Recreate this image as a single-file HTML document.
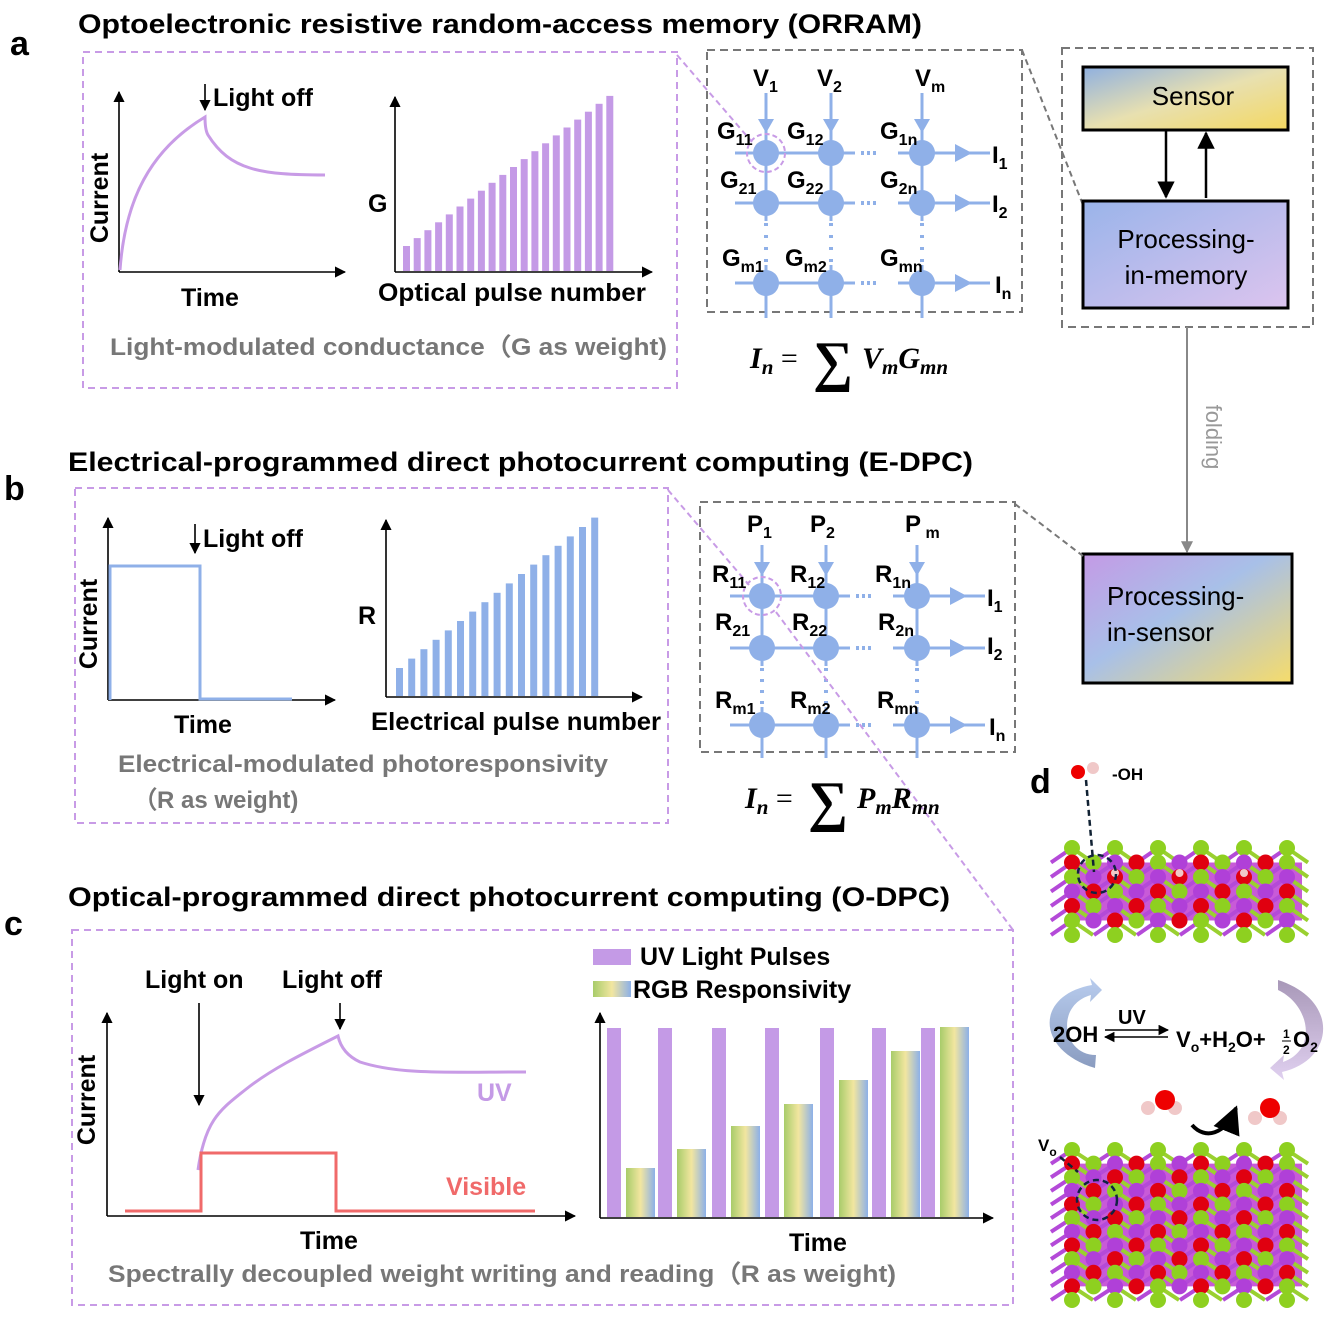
<!DOCTYPE html>
<html><head><meta charset="utf-8"><style>
html,body{margin:0;padding:0;background:#fff}
svg{display:block}
text{font-family:"Liberation Sans",Arial,sans-serif;font-weight:bold}
</style></head><body>
<svg id="s" width="1337" height="1318" viewBox="0 0 1337 1318" xmlns="http://www.w3.org/2000/svg">
<defs>
<marker id="ah" viewBox="0 0 10 10" refX="9" refY="5" markerWidth="7" markerHeight="7" orient="auto"><path d="M0,0L10,5L0,10z" fill="#000"/></marker>
<marker id="ahg" viewBox="0 0 10 10" refX="9" refY="5" markerWidth="6" markerHeight="6" orient="auto"><path d="M0,0L10,5L0,10z" fill="#888"/></marker>
<linearGradient id="gSensor" x1="0" y1="0" x2="1" y2="1"><stop offset="0" stop-color="#8fb0e0"/><stop offset="0.5" stop-color="#e8e0b0"/><stop offset="1" stop-color="#f4d860"/></linearGradient>
<linearGradient id="gPim" x1="0" y1="0" x2="1" y2="1"><stop offset="0" stop-color="#9ab4ea"/><stop offset="1" stop-color="#dcc4ee"/></linearGradient>
<linearGradient id="gPis" x1="0" y1="0" x2="1" y2="1"><stop offset="0" stop-color="#c49ae6"/><stop offset="0.45" stop-color="#a8c0e8"/><stop offset="1" stop-color="#f6dc6a"/></linearGradient>
<linearGradient id="gRgb" x1="0" y1="0" x2="1" y2="0"><stop offset="0" stop-color="#a8cc6a"/><stop offset="0.5" stop-color="#f2e6a0"/><stop offset="1" stop-color="#8cb0e8"/></linearGradient>
<linearGradient id="gArL" x1="0" y1="0" x2="0" y2="1"><stop offset="0" stop-color="#b8ccee"/><stop offset="1" stop-color="#8a9cc0"/></linearGradient>
<linearGradient id="gArR" x1="0" y1="0" x2="0" y2="1"><stop offset="0" stop-color="#a898b8"/><stop offset="1" stop-color="#e0d0f0"/></linearGradient>
</defs>

<!-- Panel a -->
<text x="10" y="55" font-size="34">a</text>
<text x="78" y="33" font-size="27" textLength="844" lengthAdjust="spacingAndGlyphs">Optoelectronic resistive random-access memory (ORRAM)</text>
<rect x="83" y="52" width="594" height="336" fill="none" stroke="#c89be6" stroke-width="2" stroke-dasharray="7,5"/>
<g stroke="#000" stroke-width="1.6" fill="none">
<line x1="119" y1="272" x2="119" y2="92" marker-end="url(#ah)"/>
<line x1="119" y1="272" x2="345" y2="272" marker-end="url(#ah)"/>
<line x1="395" y1="272" x2="395" y2="97" marker-end="url(#ah)"/>
<line x1="395" y1="272" x2="652" y2="272" marker-end="url(#ah)"/>
<line x1="205" y1="84" x2="205" y2="110" marker-end="url(#ah)"/>
</g>
<path d="M120,270 C125,200 150,150 205,117 C205,122 205,130 208,135 C230,170 260,175 325,175" fill="none" stroke="#c89be6" stroke-width="3"/>
<text x="213" y="106" font-size="25">Light off</text>
<text transform="translate(108,198) rotate(-90)" font-size="25" text-anchor="middle">Current</text>
<text x="210" y="306" font-size="25" text-anchor="middle">Time</text>
<text x="368" y="212" font-size="25">G</text>
<g id="barsA" fill="#c49ae6"></g>
<text x="378" y="301" font-size="25" textLength="268" lengthAdjust="spacingAndGlyphs">Optical pulse number</text>
<text x="110" y="355" font-size="24" fill="#777" textLength="557" lengthAdjust="spacingAndGlyphs">Light-modulated conductance（G as weight)</text>

<!-- crossbar a -->
<rect x="707" y="50" width="315" height="262" fill="none" stroke="#777" stroke-width="2" stroke-dasharray="8,5"/>
<g id="xa"></g>
<circle cx="766" cy="153" r="19" fill="none" stroke="#c89be6" stroke-width="2" stroke-dasharray="5,3"/>
<line x1="677" y1="55" x2="752" y2="142" stroke="#c89be6" stroke-width="2" stroke-dasharray="6,4"/>
<line x1="1022" y1="50" x2="1083" y2="205" stroke="#777" stroke-width="2" stroke-dasharray="6,4"/>
<g font-size="24">
<text x="753" y="86">V<tspan font-size="16" dy="6">1</tspan></text>
<text x="817" y="86">V<tspan font-size="16" dy="6">2</tspan></text>
<text x="915" y="86">V<tspan font-size="16" dy="6">m</tspan></text>
<text x="717" y="139">G<tspan font-size="16" dy="6">11</tspan></text>
<text x="787" y="139">G<tspan font-size="16" dy="6">12</tspan></text>
<text x="880" y="139">G<tspan font-size="16" dy="6">1n</tspan></text>
<text x="720" y="188">G<tspan font-size="16" dy="6">21</tspan></text>
<text x="787" y="188">G<tspan font-size="16" dy="6">22</tspan></text>
<text x="880" y="188">G<tspan font-size="16" dy="6">2n</tspan></text>
<text x="722" y="266">G<tspan font-size="16" dy="6">m1</tspan></text>
<text x="785" y="266">G<tspan font-size="16" dy="6">m2</tspan></text>
<text x="880" y="266">G<tspan font-size="16" dy="6">mn</tspan></text>
<text x="992" y="163">I<tspan font-size="16" dy="6">1</tspan></text>
<text x="992" y="212">I<tspan font-size="16" dy="6">2</tspan></text>
<text x="995" y="293">I<tspan font-size="16" dy="6">n</tspan></text>
</g>
<g font-style="italic">
<text x="750" y="368" font-size="30" style="font-family:'Liberation Serif',serif">I<tspan font-size="21" dy="6">n</tspan><tspan dy="-6" font-style="normal" font-weight="normal"> = </tspan></text>
<text x="813" y="380" font-size="56" font-style="normal" font-weight="normal" style="font-family:'Liberation Serif',serif">∑</text>
<text x="862" y="368" font-size="30" style="font-family:'Liberation Serif',serif">V<tspan font-size="21" dy="6">m</tspan><tspan dy="-6">G</tspan><tspan font-size="21" dy="6">mn</tspan></text>
</g>

<!-- right boxes -->
<rect x="1062" y="48" width="251" height="279" fill="none" stroke="#777" stroke-width="2" stroke-dasharray="8,5"/>
<rect x="1083" y="67" width="205" height="63" fill="url(#gSensor)" stroke="#000" stroke-width="3"/>
<text x="1193" y="105" font-size="26" text-anchor="middle" style="font-weight:normal">Sensor</text>
<rect x="1083" y="201" width="205" height="107" fill="url(#gPim)" stroke="#000" stroke-width="3"/>
<text x="1186" y="248" font-size="26" text-anchor="middle" style="font-weight:normal">Processing-</text>
<text x="1186" y="284" font-size="26" text-anchor="middle" style="font-weight:normal">in-memory</text>
<line x1="1166" y1="130" x2="1166" y2="197" stroke="#000" stroke-width="2.5" marker-end="url(#ah)"/>
<line x1="1206" y1="198" x2="1206" y2="133" stroke="#000" stroke-width="2.5" marker-end="url(#ah)"/>
<line x1="1187" y1="327" x2="1187" y2="552" stroke="#888" stroke-width="2" marker-end="url(#ahg)"/>
<text transform="translate(1206,437) rotate(90)" font-size="22" fill="#999" text-anchor="middle" style="font-weight:normal">folding</text>
<rect x="1083" y="554" width="209" height="129" fill="url(#gPis)" stroke="#000" stroke-width="3"/>
<text x="1107" y="605" font-size="26" style="font-weight:normal">Processing-</text>
<text x="1107" y="641" font-size="26" style="font-weight:normal">in-sensor</text>

<!-- Panel b -->
<text x="4" y="500" font-size="34">b</text>
<text x="68" y="471" font-size="27" textLength="905" lengthAdjust="spacingAndGlyphs">Electrical-programmed direct photocurrent computing (E-DPC)</text>
<rect x="75" y="488" width="593" height="335" fill="none" stroke="#c89be6" stroke-width="2" stroke-dasharray="7,5"/>
<g stroke="#000" stroke-width="1.6" fill="none">
<line x1="108" y1="700" x2="108" y2="518" marker-end="url(#ah)"/>
<line x1="108" y1="700" x2="335" y2="700" marker-end="url(#ah)"/>
<line x1="386" y1="697" x2="386" y2="520" marker-end="url(#ah)"/>
<line x1="386" y1="697" x2="642" y2="697" marker-end="url(#ah)"/>
<line x1="195" y1="524" x2="195" y2="553" marker-end="url(#ah)"/>
</g>
<path d="M110,700 L110,566 L200,566 L200,699 L292,699" fill="none" stroke="#8fb0e8" stroke-width="3"/>
<text x="203" y="547" font-size="25">Light off</text>
<text transform="translate(97,624) rotate(-90)" font-size="25" text-anchor="middle">Current</text>
<text x="203" y="733" font-size="25" text-anchor="middle">Time</text>
<text x="358" y="624" font-size="25">R</text>
<g id="barsB" fill="#8fb0e8"></g>
<text x="371" y="730" font-size="25" textLength="290" lengthAdjust="spacingAndGlyphs">Electrical pulse number</text>
<text x="118" y="772" font-size="24" fill="#777" textLength="490" lengthAdjust="spacingAndGlyphs">Electrical-modulated photoresponsivity</text>
<text x="133" y="808" font-size="24" fill="#777">（R as weight)</text>

<rect x="700" y="502" width="315" height="250" fill="none" stroke="#777" stroke-width="2" stroke-dasharray="8,5"/>
<g id="xb"></g>
<circle cx="762" cy="596" r="19" fill="none" stroke="#c89be6" stroke-width="2" stroke-dasharray="5,3"/>
<line x1="668" y1="490" x2="749" y2="585" stroke="#c89be6" stroke-width="2" stroke-dasharray="6,4"/>
<line x1="776" y1="612" x2="1013" y2="930" stroke="#c89be6" stroke-width="2" stroke-dasharray="6,4"/>
<line x1="1015" y1="504" x2="1083" y2="556" stroke="#777" stroke-width="2" stroke-dasharray="6,4"/>
<g font-size="24">
<text x="747" y="532">P<tspan font-size="16" dy="6">1</tspan></text>
<text x="810" y="532">P<tspan font-size="16" dy="6">2</tspan></text>
<text x="905" y="532">P<tspan font-size="16" dy="6"> m</tspan></text>
<text x="712" y="582">R<tspan font-size="16" dy="6">11</tspan></text>
<text x="790" y="582">R<tspan font-size="16" dy="6">12</tspan></text>
<text x="875" y="582">R<tspan font-size="16" dy="6">1n</tspan></text>
<text x="715" y="630">R<tspan font-size="16" dy="6">21</tspan></text>
<text x="792" y="630">R<tspan font-size="16" dy="6">22</tspan></text>
<text x="878" y="630">R<tspan font-size="16" dy="6">2n</tspan></text>
<text x="715" y="708">R<tspan font-size="16" dy="6">m1</tspan></text>
<text x="790" y="708">R<tspan font-size="16" dy="6">m2</tspan></text>
<text x="877" y="708">R<tspan font-size="16" dy="6">mn</tspan></text>
<text x="987" y="606">I<tspan font-size="16" dy="6">1</tspan></text>
<text x="987" y="654">I<tspan font-size="16" dy="6">2</tspan></text>
<text x="989" y="735">I<tspan font-size="16" dy="6">n</tspan></text>
</g>
<g font-style="italic">
<text x="745" y="808" font-size="30" style="font-family:'Liberation Serif',serif">I<tspan font-size="21" dy="6">n</tspan><tspan dy="-6" font-style="normal" font-weight="normal"> = </tspan></text>
<text x="808" y="820" font-size="56" font-style="normal" font-weight="normal" style="font-family:'Liberation Serif',serif">∑</text>
<text x="857" y="808" font-size="30" style="font-family:'Liberation Serif',serif">P<tspan font-size="21" dy="6">m</tspan><tspan dy="-6">R</tspan><tspan font-size="21" dy="6">mn</tspan></text>
</g>

<!-- Panel c -->
<text x="4" y="935" font-size="34">c</text>
<text x="68" y="906" font-size="27" textLength="882" lengthAdjust="spacingAndGlyphs">Optical-programmed direct photocurrent computing (O-DPC)</text>
<rect x="72" y="930" width="941" height="375" fill="none" stroke="#c89be6" stroke-width="2" stroke-dasharray="7,5"/>
<g stroke="#000" stroke-width="1.6" fill="none">
<line x1="107" y1="1216" x2="107" y2="1013" marker-end="url(#ah)"/>
<line x1="107" y1="1216" x2="575" y2="1216" marker-end="url(#ah)"/>
<line x1="600" y1="1218" x2="600" y2="1013" marker-end="url(#ah)"/>
<line x1="600" y1="1218" x2="993" y2="1218" marker-end="url(#ah)"/>
<line x1="199" y1="1003" x2="199" y2="1105" marker-end="url(#ah)"/>
<line x1="340" y1="1003" x2="340" y2="1029" marker-end="url(#ah)"/>
</g>
<path d="M198,1170 C205,1120 220,1110 245,1090 C270,1070 300,1055 338,1036 C340,1045 345,1055 360,1062 C400,1075 450,1072 526,1072" fill="none" stroke="#c89be6" stroke-width="3"/>
<path d="M125,1211 L201,1211 L201,1153 L336,1153 L336,1211 L535,1211" fill="none" stroke="#f06a6a" stroke-width="3"/>
<text x="145" y="988" font-size="25">Light on</text>
<text x="282" y="988" font-size="25">Light off</text>
<text x="477" y="1101" font-size="25" fill="#c49ae6">UV</text>
<text x="446" y="1195" font-size="25" fill="#f06a6a">Visible</text>
<text x="329" y="1249" font-size="25" text-anchor="middle">Time</text>
<text transform="translate(95,1100) rotate(-90)" font-size="25" text-anchor="middle">Current</text>
<g id="barsC"></g>
<rect x="593" y="949" width="38" height="16" fill="#c49ae6"/>
<text x="640" y="965" font-size="25">UV Light Pulses</text>
<rect x="593" y="981" width="38" height="16" fill="url(#gRgb)"/>
<text x="633" y="998" font-size="25">RGB Responsivity</text>
<text x="818" y="1251" font-size="25" text-anchor="middle">Time</text>
<text x="108" y="1282" font-size="24" fill="#777" textLength="788" lengthAdjust="spacingAndGlyphs">Spectrally decoupled weight writing and reading（R as weight)</text>

<!-- Panel d -->
<text x="1030" y="793" font-size="34">d</text>
<g id="cr1"></g>
<g id="cr2"></g>
<circle cx="1078" cy="772" r="7" fill="#e00"/><circle cx="1093" cy="768" r="6" fill="#f0c8c8"/>
<text x="1112" y="780" font-size="17">-OH</text>
<line x1="1086" y1="780" x2="1094" y2="872" stroke="#123" stroke-width="2.5" stroke-dasharray="6,4"/>
<circle cx="1097" cy="874" r="19" fill="none" stroke="#124" stroke-width="2.5" stroke-dasharray="6,4"/>
<circle cx="1097" cy="1200" r="20" fill="none" stroke="#124" stroke-width="2.5" stroke-dasharray="6,4"/>
<text x="1038" y="1151" font-size="17">V<tspan font-size="12" dy="5">o</tspan></text>
<line x1="1060" y1="1157" x2="1078" y2="1172" stroke="#123" stroke-width="2.5" stroke-dasharray="6,4"/>
<path d="M1095,1068 C1035,1050 1035,995 1092,985 L1090,978 L1102,990 L1090,1002 L1091,995 C1055,1005 1062,1055 1096,1055 Z" fill="url(#gArL)"/>
<path d="M1278,980 C1340,1000 1335,1060 1282,1072 L1284,1080 L1270,1068 L1284,1055 L1283,1062 C1318,1050 1310,1005 1278,990 Z" fill="url(#gArR)"/>
<text x="1053" y="1042" font-size="22">2OH</text>
<text x="1118" y="1024" font-size="20">UV</text>
<line x1="1105" y1="1030" x2="1168" y2="1030" stroke="#000" stroke-width="1.5" marker-end="url(#ah)"/>
<line x1="1168" y1="1037" x2="1105" y2="1037" stroke="#000" stroke-width="1.5" marker-end="url(#ah)"/>
<text x="1176" y="1047" font-size="22">V<tspan font-size="14" dy="5">o</tspan><tspan dy="-5">+H</tspan><tspan font-size="14" dy="5">2</tspan><tspan dy="-5">O+</tspan></text>
<text x="1283" y="1038" font-size="12">1</text><line x1="1282" y1="1041" x2="1291" y2="1041" stroke="#000"/><text x="1283" y="1054" font-size="12">2</text>
<text x="1293" y="1047" font-size="22">O<tspan font-size="14" dy="5">2</tspan></text>
<g><circle cx="1148" cy="1108" r="7" fill="#f0c8c8"/><circle cx="1175" cy="1108" r="7" fill="#f0c8c8"/><circle cx="1165" cy="1100" r="10" fill="#e00"/></g>
<g><circle cx="1255" cy="1118" r="7" fill="#f0c8c8"/><circle cx="1280" cy="1118" r="7" fill="#f0c8c8"/><circle cx="1270" cy="1108" r="10" fill="#e00"/></g>
<path d="M1192,1125 C1205,1140 1225,1135 1236,1108" fill="none" stroke="#000" stroke-width="4" marker-end="url(#ah)"/>
</svg>
<script>
var NS="http://www.w3.org/2000/svg";
function el(p,t,a){var e=document.createElementNS(NS,t);for(var k in a)e.setAttribute(k,a[k]);p.appendChild(e);return e;}
(function(){
var g=document.getElementById("barsA");
for(var i=0;i<20;i++){var x=403+i*10.7,tp=246-i*7.9;el(g,"rect",{x:x,y:tp,width:7,height:271-tp});}
g=document.getElementById("barsB");
for(var i=0;i<17;i++){var x=396+i*12.2,tp=668-i*9.4;el(g,"rect",{x:x,y:tp,width:7,height:696-tp});}
g=document.getElementById("barsC");
var px=[607,658,712,765,820,872,921],gt=[1168,1149,1126,1104,1080,1051,1027];
for(var i=0;i<7;i++){el(g,"rect",{x:px[i],y:1028,width:14,height:189,fill:"#c49ae6"});el(g,"rect",{x:px[i]+19,y:gt[i],width:29,height:1217-gt[i],fill:"url(#gRgb)"});}
function xbar(id,cx,ry,tp,bot,l,r){var G=document.getElementById(id),c="#8fb0e8";
cx.forEach(function(x){el(G,"line",{x1:x,y1:tp,x2:x,y2:bot,stroke:c,"stroke-width":3});el(G,"path",{d:"M"+(x-8)+","+(ry[0]-34)+"L"+(x+8)+","+(ry[0]-34)+"L"+x+","+(ry[0]-20)+"z",fill:c});});
ry.forEach(function(y){el(G,"line",{x1:l,y1:y,x2:cx[1]+24,y2:y,stroke:c,"stroke-width":3});el(G,"line",{x1:cx[2]-24,y1:y,x2:r,y2:y,stroke:c,"stroke-width":3});
for(var k=0;k<3;k++)el(G,"rect",{x:cx[1]+30+k*6,y:y-2,width:3,height:4,fill:c});
el(G,"path",{d:"M"+(cx[2]+33)+","+(y-9)+"L"+(cx[2]+50)+","+y+"L"+(cx[2]+33)+","+(y+9)+"z",fill:c});
cx.forEach(function(x){el(G,"circle",{cx:x,cy:y,r:13,fill:c});});});
cx.forEach(function(x){el(G,"rect",{x:x-4,y:ry[1]+18,width:8,height:ry[2]-ry[1]-36,fill:"#fff"});for(var k=0;k<4;k++)el(G,"rect",{x:x-2,y:ry[1]+20+k*((ry[2]-ry[1]-44)/3),width:4,height:3,fill:c});});}
xbar("xa",[766,831,922],[153,203,283],93,318,735,990);
xbar("xb",[762,826,917],[596,648,725],545,758,730,985);
function crystal(id,y0,y1,oh){var G=document.getElementById(id);
var n=Math.round((y1-y0)/14)+1;var dy=(y1-y0)/(n-1);
var cols=[];for(var x=1072;x<=1300;x+=21.5)cols.push(x);
el(G,"rect",{x:1068,y:y0+dy,width:234,height:y1-y0-2*dy,fill:"#c85ad8"});
for(var i=0;i<cols.length;i++)for(var j=0;j<n;j++){var x=cols[i],y=y0+j*dy;
if(j<n-1&&i%2==0){el(G,"line",{x1:x,y1:y,x2:x+21,y2:y+dy,stroke:"#9ad030","stroke-width":4});el(G,"line",{x1:x,y1:y,x2:x-21,y2:y+dy,stroke:"#b44ad8","stroke-width":4});}}
for(var j=0;j<n;j++)for(var i=0;i<cols.length;i++){var x=cols[i],y=y0+j*dy;var col,r=8;
if(j==0||j==n-1){if(i%2==0)col="#8ed020";else continue;}
else{var t=(i+j)%3;col=t==0?"#b040d8":(t==1?"#e00010":"#8ed020");}
el(G,"circle",{cx:x,cy:y,r:r,fill:col});
if(oh&&j==2&&col=="#e00010")el(G,"circle",{cx:x,cy:y-4,r:4,fill:"#f0c8c8"});}}
crystal("cr1",848,935,true);
crystal("cr2",1150,1300,false);
})();
</script>
</body></html>
